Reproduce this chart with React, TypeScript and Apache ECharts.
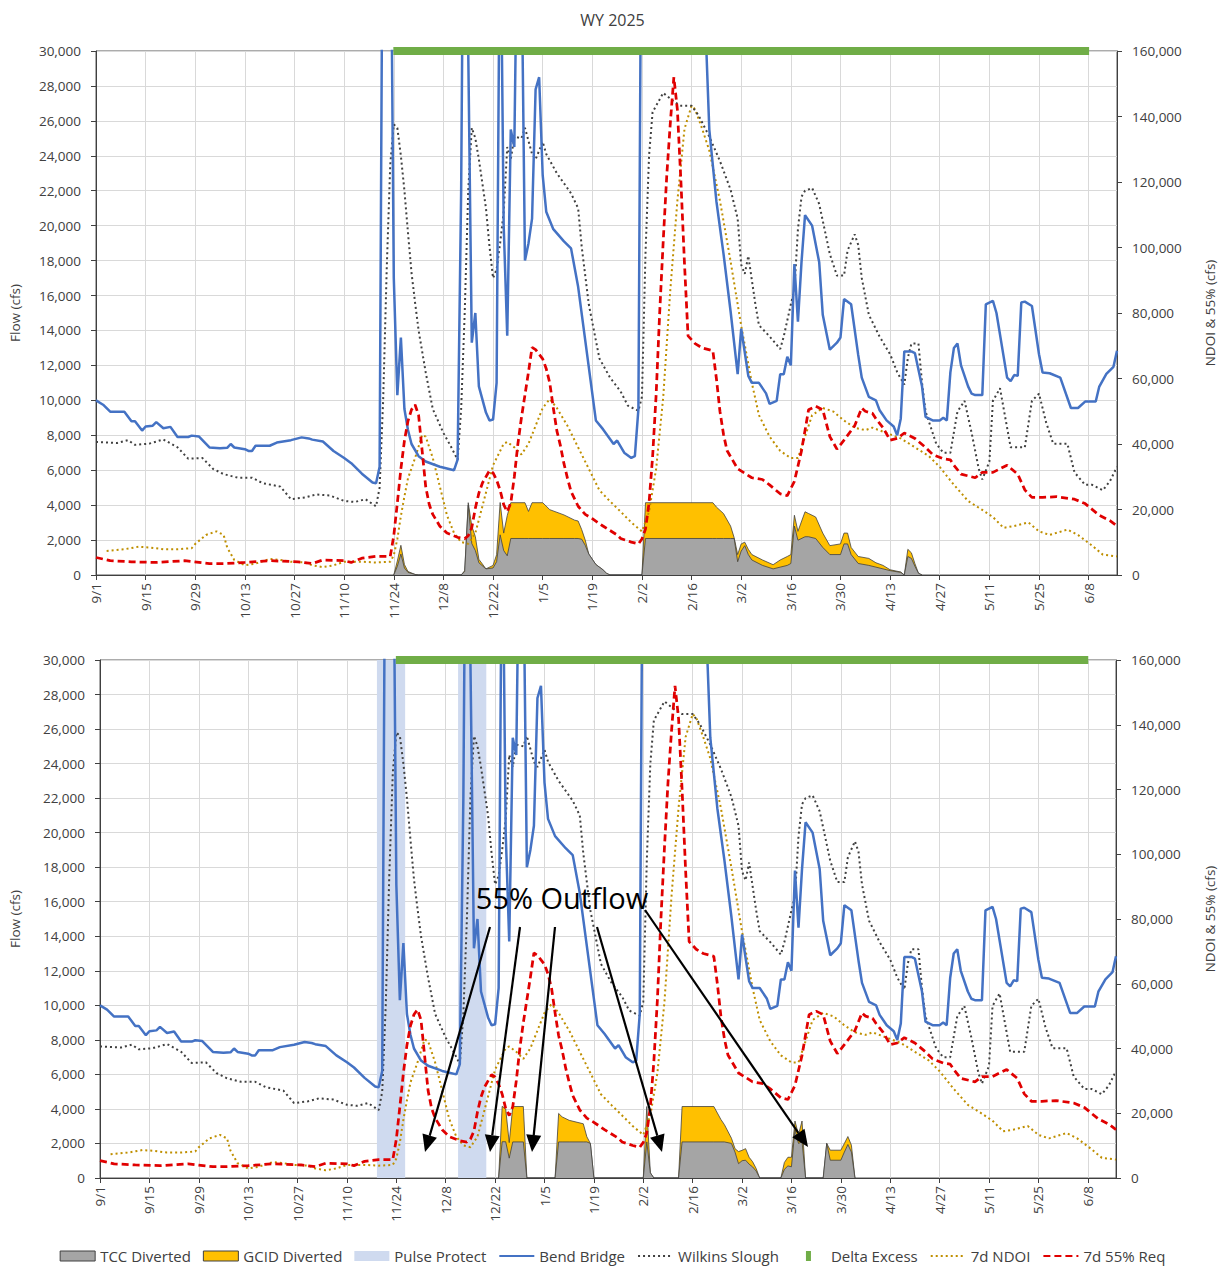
import React, { useEffect, useRef } from "react";
import * as echarts from "echarts";

// x values are days counted from 9/1/2024 (day 0)
const dayRange = { min: 0, max: 288, step: 14 };
const flowAxis = { max: 30000, step: 2000 };
const outflowAxis = { max: 160000, step: 20000 };

const bendBridge: [number, number][] = [
  [0, 10000], [2, 9750], [4, 9350], [8, 9350], [10, 8800], [11, 8800], [13, 8270], [14, 8500], [16, 8550], [17, 8750],
  [19, 8400], [21, 8480], [23, 7900], [26, 7900], [27, 7980], [29, 7930], [32, 7300], [35, 7250], [37, 7280], [38, 7500],
  [39, 7300], [42, 7200], [43, 7100], [44, 7100], [45, 7400], [49, 7400], [51, 7580], [55, 7720], [58, 7880], [60, 7820],
  [61, 7750], [64, 7640], [67, 7100], [70, 6700], [72, 6400], [75, 5800], [78, 5300], [79, 5250], [80, 6200], [81, 45000],
  [82, 60000], [83, 42000], [84, 17000], [85, 10300], [86, 13600], [87, 9500], [88, 8300], [89, 7500], [91, 6800], [93, 6500],
  [97, 6200], [101, 6000], [102, 6600], [103, 22000], [104, 50000], [105, 30000], [106, 13300], [107, 15000], [108, 10800],
  [110, 9300], [111, 8850], [112, 8900], [113, 11000], [114, 40000], [115, 20000], [116, 13700], [117, 25500], [118, 24500],
  [119, 40000], [120, 36000], [121, 18000], [122, 19000], [123, 20400], [124, 27800], [125, 28500], [126, 22900], [127, 20800],
  [129, 19800], [132, 19100], [134, 18700], [136, 16500], [141, 8850], [143, 8350], [146, 7500], [147, 7700], [149, 7000],
  [151, 6700], [152, 6800], [153, 9500], [154, 45000], [160, 60000], [170, 45000], [172, 31000], [173, 25500], [175, 21400],
  [177, 18400], [179, 15100], [181, 11500], [182, 14100], [184, 11400], [185, 11000], [187, 11000], [189, 10400], [190, 9800],
  [192, 9970], [193, 11500], [194, 11500], [195, 12500], [196, 12000], [197, 17800], [198, 14500], [199, 17900], [200, 20600],
  [202, 20000], [204, 17900], [205, 14900], [207, 12900], [209, 13300], [210, 13600], [211, 15800], [213, 15500], [215, 12600],
  [216, 11300], [218, 10200], [220, 10000], [221, 9450], [223, 8850], [225, 8500], [226, 8000], [227, 8950], [228, 12800],
  [230, 12800], [231, 12700], [233, 10800], [234, 9050], [236, 8850], [238, 8850], [239, 9000], [240, 8850], [241, 11600],
  [242, 13000], [243, 13250], [244, 12000], [246, 10800], [247, 10380], [248, 10300], [250, 10300], [251, 15500], [253, 15700],
  [254, 15000], [257, 11300], [258, 11100], [259, 11450], [260, 11400], [261, 15600], [262, 15650], [264, 15400], [266, 12640],
  [267, 11600], [269, 11550], [272, 11300], [275, 9560], [277, 9560], [279, 9930], [282, 9930], [283, 10790], [285, 11510],
  [287, 11920], [288, 12840],
];

const wilkinsSlough: [number, number][] = [
  [0, 7620], [6, 7560], [9, 7720], [11, 7450], [15, 7520], [19, 7760], [23, 7310], [26, 6660], [30, 6700], [33, 6080],
  [36, 5775], [40, 5570], [44, 5570], [47, 5260], [52, 5060], [55, 4340], [59, 4440], [62, 4610], [66, 4550], [70, 4240],
  [73, 4180], [76, 4340], [79, 3930], [80, 5000], [81, 10000], [82, 17500], [83, 23500], [84, 25800], [85, 25600], [86, 24000],
  [87, 22000], [88, 19600], [89, 17300], [90, 15600], [91, 14000], [93, 11600], [95, 9500], [98, 8130], [100, 7400], [102, 6600],
  [103, 9500], [104, 15000], [105, 22000], [106, 25600], [107, 25000], [108, 23800], [110, 21000], [111, 18800], [112, 17000],
  [113, 17500], [114, 19000], [115, 20800], [116, 24500], [117, 23800], [118, 25100], [120, 25000], [121, 25600], [123, 24100],
  [124, 23800], [126, 24800], [127, 24100], [130, 23000], [134, 21850], [136, 21000], [137, 18800], [139, 15500], [142, 12400],
  [145, 11300], [148, 10500], [150, 9700], [153, 9400], [154, 10200], [155, 18400], [156, 24000], [157, 26500], [160, 27600],
  [163, 27100], [165, 26870], [168, 26870], [170, 26300], [173, 25100], [176, 23700], [179, 22060], [181, 20400], [182, 17760],
  [183, 17240], [184, 18270], [186, 15500], [187, 14300], [190, 13660], [193, 12940], [194, 13660], [196, 15500], [197, 16320],
  [198, 19800], [199, 21650], [200, 22000], [202, 22160], [204, 21240], [207, 18370], [209, 17140], [211, 17140], [212, 18580],
  [214, 19500], [215, 18900], [216, 17000], [218, 14900], [221, 13660], [224, 12640], [226, 11610], [228, 10900], [229, 12430],
  [230, 13250], [232, 13250], [233, 11000], [234, 9360], [237, 7520], [239, 7000], [241, 7000], [243, 9360], [245, 9970],
  [247, 8130], [249, 6080], [250, 5470], [252, 6490], [253, 9970], [255, 10690], [256, 9560], [258, 7310], [262, 7310],
  [264, 9970], [266, 10380], [268, 8740], [270, 7520], [274, 7520], [276, 5880], [279, 5160], [281, 5160], [284, 4850],
  [286, 5370], [288, 6190],
];

const ndoi7d: [number, number][] = [
  [3, 7320], [8, 7860], [12, 8630], [15, 8410], [19, 7860], [23, 7860], [27, 8190], [28, 9500], [31, 12230], [34, 13320],
  [36, 12230], [37, 8410], [39, 4590], [42, 2950], [45, 3490], [49, 4910], [52, 4590], [55, 4040], [59, 3820], [61, 2950],
  [64, 2400], [67, 2950], [70, 4040], [75, 4040], [79, 3820], [83, 4040], [84, 6000], [85, 11000], [86, 18000], [87, 24000],
  [88, 29500], [90, 35700], [92, 42800], [93, 42260], [95, 35710], [97, 26970], [99, 18240], [101, 12780], [103, 10050],
  [105, 9500], [107, 12780], [109, 21000], [112, 33520], [115, 40080], [116, 40620], [118, 38980], [120, 36800], [122, 40080],
  [124, 45540], [126, 51000], [128, 53730], [130, 51000], [133, 45540], [136, 38980], [139, 32430], [142, 25880], [145, 22500],
  [148, 19330], [151, 16050], [154, 13320], [156, 19330], [158, 32430], [160, 54270], [162, 87030], [164, 114300], [166, 136200],
  [168, 143300], [169, 142200], [171, 136200], [173, 129600], [176, 114300], [179, 95770], [182, 76110], [185, 58640],
  [187, 48810], [190, 42260], [193, 37890], [196, 35710], [198, 35710], [200, 42260], [202, 48810], [205, 51000], [208, 49900],
  [211, 47170], [214, 44990], [217, 44220], [219, 44990], [223, 43350], [227, 41710], [231, 38980], [235, 36250], [238, 32980],
  [242, 27520], [246, 22600], [250, 19870], [253, 17690], [256, 14410], [259, 14960], [263, 16050], [266, 13320], [269, 12230],
  [274, 13870], [277, 12230], [281, 8950], [284, 6220], [288, 5680],
];

const req55: [number, number][] = [
  [0, 5350], [4, 4370], [10, 4040], [17, 3820], [25, 4370], [32, 3490], [36, 3490], [42, 3820], [49, 4370], [57, 4040],
  [61, 3490], [64, 4590], [70, 4370], [72, 3820], [75, 5130], [79, 5680], [83, 5680], [84, 12000], [85, 22000], [86, 32400],
  [87, 41000], [88, 47000], [89, 50500], [90, 52000], [91, 48800], [92, 37900], [93, 27000], [94, 21500], [95, 18500],
  [97, 14900], [99, 12800], [102, 11500], [104, 11100], [105, 12000], [106, 14500], [107, 20400], [108, 25000], [109, 28100],
  [111, 31900], [112, 31200], [113, 29000], [114, 25900], [115, 21500], [116, 19300], [117, 22000], [118, 30000], [119, 40000],
  [120, 48000], [121, 55000], [122, 62000], [123, 69500], [124, 68800], [125, 67400], [126, 66000], [127, 63000], [128, 58600],
  [129, 51000], [130, 44000], [131, 39500], [132, 34000], [133, 29500], [134, 25500], [136, 21000], [138, 18500], [140, 17200],
  [143, 14960], [147, 12230], [148, 11140], [151, 10050], [153, 9500], [154, 11000], [155, 14000], [156, 22000], [157, 36000],
  [158, 55000], [159, 80000], [160, 102000], [161, 122000], [162, 138000], [163, 152000], [164, 142000], [165, 120000],
  [166, 95000], [167, 73000], [169, 70650], [171, 69340], [174, 68470], [175, 60000], [176, 50000], [177, 43000], [178, 38000],
  [181, 32430], [185, 29700], [188, 29160], [190, 27520], [193, 24790], [195, 24240], [197, 28610], [199, 37890], [201, 50450],
  [203, 51540], [205, 50450], [207, 42260], [209, 38440], [211, 41170], [214, 45540], [216, 51000], [217, 50000], [219, 49360],
  [220, 47720], [222, 44990], [224, 41170], [226, 41710], [228, 43350], [231, 41710], [234, 38980], [236, 36800], [239, 35490],
  [241, 35160], [242, 33520], [244, 30790], [248, 29700], [250, 31340], [253, 31340], [257, 33520], [260, 30790], [262, 26000],
  [264, 23700], [267, 23700], [271, 23910], [276, 23150], [279, 21800], [283, 18240], [286, 16600], [288, 14960],
];

// Upper panel diversions
const divTopDays = [
  84, 85, 86, 87, 88, 90, 91,
  103, 104, 105, 106, 107, 108, 110, 112, 113, 114, 115, 116, 117, 121, 122, 123, 126, 128, 132, 135, 136, 137, 138, 139, 141, 143, 144, 145,
  154, 155, 174, 175, 177, 179, 180, 181, 182, 183, 184, 185, 188, 191, 193, 195, 196, 197, 198, 200, 201, 203, 205, 207, 210, 211, 212, 213, 215, 218, 220, 222, 224, 227, 228, 229, 230, 231, 232, 233,
];
const tccTop = [
  0, 500, 1200, 400, 150, 30, 0,
  0, 200, 4000, 1800, 1400, 700, 350, 400, 760, 2300, 1400, 1100, 2090, 2090, 2090, 2090, 2090, 2090, 2090, 2090, 2090, 2050, 1700, 1200, 600, 300, 100, 0,
  0, 2090, 2090, 2090, 2090, 2090, 2090, 760, 1370, 1680, 1170, 860, 550, 350, 450, 550, 660, 2800, 1990, 2190, 2190, 2090, 1580, 1170, 1170, 1780, 1780, 1170, 660, 550, 450, 350, 250, 150, 0, 1060, 950, 500, 100, 0,
];
const gcidTop = [
  0, 300, 500, 200, 50, 0, 0,
  0, 50, 140, 1000, 800, 200, 0, 150, 400, 1850, 1000, 2300, 2050, 2050, 1550, 2050, 2050, 1650, 1350, 1050, 1000, 550, 300, 0, 0, 0, 0, 0,
  0, 2050, 2050, 1800, 1430, 710, 50, 410, 410, 200, 300, 310, 310, 240, 410, 510, 510, 620, 510, 1430, 1330, 1230, 820, 510, 610, 620, 620, 410, 400, 400, 250, 200, 50, 20, 0, 410, 320, 150, 0, 0,
];

// Lower panel diversions
const divBotDays = [
  113, 114, 115, 116, 117, 120, 121,
  129, 130, 131, 133, 137, 138, 139, 140,
  154, 155, 156, 157,
  164, 165, 174, 176, 177, 179, 180, 181, 182, 183, 184, 185, 186, 187,
  193, 194, 195, 196, 197, 198, 199, 200,
  205, 206, 207, 210, 211, 212, 213, 214,
];
const tccBot = [
  0, 2100, 2100, 1150, 2090, 2090, 0,
  0, 2090, 2090, 2090, 2090, 2090, 2000, 0,
  0, 2090, 300, 0,
  0, 2090, 2090, 2090, 2090, 2000, 1500, 830, 1000, 1030, 800, 640, 400, 0,
  0, 500, 700, 650, 2800, 2000, 2100, 0,
  0, 2000, 1030, 1030, 1500, 1940, 1500, 0,
];
const gcidBot = [
  0, 2050, 1900, 900, 2050, 2050, 0,
  0, 1650, 1450, 1250, 1050, 300, 0, 0,
  0, 2050, 0, 0,
  0, 2050, 2050, 1300, 1000, 300, 200, 700, 600, 670, 400, 300, 150, 0,
  0, 400, 500, 550, 500, 500, 1200, 0,
  0, 0, 580, 580, 500, 460, 400, 0,
];

const pulseProtectDays = [79, 80, 81, 82, 83, 84, 85, 86, 102, 103, 104, 105, 106, 107, 108, 109];
const deltaExcessDays = [85, 279];
const deltaExcessLevel = 30000;

const FONT = "'Open Sans', 'Liberation Sans', sans-serif";
const C = {
  bend: "#4472C4",
  wilkins: "#404040",
  ndoi: "#BF8F00",
  req: "#E00000",
  green: "#70AD47",
  tcc: "#A5A5A5",
  gcid: "#FFC000",
  pulse: "#CFDAEF",
  edge: "#404040",
  grid: "#D9D9D9",
  text: "#404040",
};

const dayLabel = (d: number) => {
  const dt = new Date(2024, 8, 1 + d);
  return `${dt.getMonth() + 1}/${dt.getDate()}`;
};
const fmt = (v: number) => v.toLocaleString("en-US");

function runsOf(days: number[]) {
  const runs: [number, number][] = [];
  days.forEach((d) => {
    const last = runs[runs.length - 1];
    if (last && d === last[1] + 1) last[1] = d;
    else runs.push([d, d]);
  });
  return runs;
}

function panelSeries(p: number, days: number[], tcc: number[], gcid: number[], pulse: number[] | null) {
  const xi = p;
  const yl = p * 2;
  const yr = p * 2 + 1;
  const list: any[] = [];
  if (pulse) {
    runsOf(pulse).forEach(([s, e]) => {
      list.push({
        name: "Pulse Protect", type: "line", xAxisIndex: xi, yAxisIndex: yl, symbol: "none", silent: true, z: 1,
        data: [[s - 0.5, flowAxis.max], [e + 0.5, flowAxis.max]],
        lineStyle: { width: 0 }, itemStyle: { color: C.pulse }, areaStyle: { color: C.pulse, opacity: 1 },
      });
    });
  }
  list.push({
    name: "GCID Diverted", type: "line", xAxisIndex: xi, yAxisIndex: yl, symbol: "none", z: 2,
    data: days.map((d, i) => [d, tcc[i] + gcid[i]]),
    lineStyle: { color: C.edge, width: 0.8 }, itemStyle: { color: C.gcid }, areaStyle: { color: C.gcid, opacity: 1 },
  });
  list.push({
    name: "TCC Diverted", type: "line", xAxisIndex: xi, yAxisIndex: yl, symbol: "none", z: 3,
    data: days.map((d, i) => [d, tcc[i]]),
    lineStyle: { color: C.edge, width: 0.8 }, itemStyle: { color: C.tcc }, areaStyle: { color: C.tcc, opacity: 1 },
  });
  list.push({
    name: "7d NDOI", type: "line", xAxisIndex: xi, yAxisIndex: yr, symbol: "none", z: 4, data: ndoi7d,
    lineStyle: { color: C.ndoi, width: 2, type: [2, 3] }, itemStyle: { color: C.ndoi },
  });
  list.push({
    name: "Wilkins Slough", type: "line", xAxisIndex: xi, yAxisIndex: yl, symbol: "none", z: 5, data: wilkinsSlough,
    lineStyle: { color: C.wilkins, width: 2, type: [2, 3] }, itemStyle: { color: C.wilkins },
  });
  list.push({
    name: "Bend Bridge", type: "line", xAxisIndex: xi, yAxisIndex: yl, symbol: "none", z: 6, data: bendBridge,
    lineStyle: { color: C.bend, width: 2.5 }, itemStyle: { color: C.bend },
  });
  list.push({
    name: "7d 55% Req", type: "line", xAxisIndex: xi, yAxisIndex: yr, symbol: "none", z: 7, data: req55,
    lineStyle: { color: C.req, width: 2.75, type: [7, 4] }, itemStyle: { color: C.req },
  });
  list.push({
    name: "Delta Excess", type: "line", xAxisIndex: xi, yAxisIndex: yl, symbol: "none", z: 8, clip: false,
    data: deltaExcessDays.map((d) => [d, deltaExcessLevel]),
    lineStyle: { color: C.green, width: 8, cap: "square" }, itemStyle: { color: C.green },
  });
  return list;
}

function xAxisFor(p: number) {
  return {
    type: "value", gridIndex: p, min: dayRange.min, max: dayRange.max, interval: dayRange.step,
    axisLine: { show: true, onZero: false, lineStyle: { color: C.text, width: 1 } },
    axisTick: { show: true, length: 5, lineStyle: { color: C.text } },
    axisLabel: {
      rotate: 90, margin: 8, fontSize: 13.5, color: C.text, fontFamily: FONT, showMaxLabel: false,
      formatter: (v: number) => (v % dayRange.step === 0 ? dayLabel(v) : ""),
    },
    splitLine: { show: true, lineStyle: { color: C.grid, width: 1 } },
  };
}

function yAxesFor(p: number, gapL: number, gapR: number) {
  const nameStyle = { fontSize: 13.5, color: C.text, fontFamily: FONT };
  return [
    {
      type: "value", gridIndex: p, position: "left", min: 0, max: flowAxis.max, interval: flowAxis.step,
      name: "Flow (cfs)", nameLocation: "middle", nameGap: gapL, nameTextStyle: nameStyle,
      axisLine: { show: true, lineStyle: { color: C.text } },
      axisTick: { show: true, length: 5, lineStyle: { color: C.text } },
      axisLabel: { margin: 15, fontSize: 13.5, color: C.text, fontFamily: FONT, formatter: fmt },
      splitLine: { show: true, lineStyle: { color: C.grid, width: 1 } },
    },
    {
      type: "value", gridIndex: p, position: "right", min: 0, max: outflowAxis.max, interval: outflowAxis.step,
      name: "NDOI & 55% (cfs)", nameLocation: "middle", nameGap: gapR, nameTextStyle: nameStyle,
      axisLine: { show: true, lineStyle: { color: C.text } },
      axisTick: { show: true, length: 5, lineStyle: { color: C.text } },
      axisLabel: { margin: 15, fontSize: 13.5, color: C.text, fontFamily: FONT, formatter: fmt },
      splitLine: { show: false },
    },
  ];
}

function arrow(x1: number, y1: number, x2: number, y2: number) {
  const dx = x2 - x1;
  const dy = y2 - y1;
  const len = Math.sqrt(dx * dx + dy * dy);
  const ux = dx / len;
  const uy = dy / len;
  const hl = 17;
  const hw = 7.5;
  const bx = x2 - ux * hl;
  const by = y2 - uy * hl;
  return [
    { type: "line", z: 100, shape: { x1, y1, x2: bx, y2: by }, style: { stroke: "#000", lineWidth: 2.2 } },
    {
      type: "polygon", z: 100,
      shape: { points: [[x2, y2], [bx - uy * hw, by + ux * hw], [bx + uy * hw, by - ux * hw]] },
      style: { fill: "#000" },
    },
  ];
}

const annotationArrows: [number, number, number, number][] = [
  [490, 927, 425, 1152],
  [520, 927, 490, 1152],
  [555, 927, 532, 1152],
  [597, 927, 662, 1152],
  [645, 910, 808, 1147],
];

export default function App() {
  const ref = useRef<HTMLDivElement>(null);
  useEffect(() => {
    if (!ref.current) return;
    const chart = echarts.init(ref.current, undefined, { renderer: "svg" });
    const graphics: any[] = [
      {
        type: "text", z: 100, x: 562, y: 897,
        style: { text: "55% Outflow", fontSize: 29, fontFamily: FONT, fill: "#000", align: "center", verticalAlign: "middle" },
      },
    ];
    annotationArrows.forEach((a) => graphics.push(...arrow(a[0], a[1], a[2], a[3])));
    const hideSym = { opacity: 0 };
    const option: any = {
      animation: false,
      backgroundColor: "#fff",
      textStyle: { fontFamily: FONT },
      title: {
        text: "WY 2025", left: "center", top: 7,
        textStyle: { fontSize: 16, fontWeight: "normal", color: C.text, fontFamily: FONT },
      },
      grid: [
        { left: 96, top: 51, width: 1022, height: 524, show: true, borderColor: "#595959", borderWidth: 1, backgroundColor: "transparent" },
        { left: 100, top: 660, width: 1017, height: 518, show: true, borderColor: "#595959", borderWidth: 1, backgroundColor: "transparent" },
      ],
      xAxis: [xAxisFor(0), xAxisFor(1)],
      yAxis: [...yAxesFor(0, 74, 86), ...yAxesFor(1, 78, 87)],
      legend: {
        left: "center", top: 1247, padding: [0, 5], itemWidth: 35, itemHeight: 10, itemGap: 12,
        textStyle: { fontSize: 15, color: C.text, fontFamily: FONT, lineHeight: 18 },
        data: [
          { name: "TCC Diverted", icon: "rect", itemStyle: { color: C.tcc, borderColor: C.edge, borderWidth: 1 } },
          { name: "GCID Diverted", icon: "rect", itemStyle: { color: C.gcid, borderColor: C.edge, borderWidth: 1 } },
          { name: "Pulse Protect", icon: "rect", itemStyle: { color: C.pulse } },
          { name: "Bend Bridge", itemStyle: hideSym },
          { name: "Wilkins Slough", itemStyle: hideSym },
          { name: "Delta Excess", icon: "path://M0,0L0,0M15,0L20,0L20,10L15,10ZM35,10L35,10", itemStyle: { color: C.green } },
          { name: "7d NDOI", itemStyle: hideSym },
          { name: "7d 55% Req", itemStyle: hideSym },
        ],
      },
      graphic: graphics,
      series: [
        ...panelSeries(0, divTopDays, tccTop, gcidTop, null),
        ...panelSeries(1, divBotDays, tccBot, gcidBot, pulseProtectDays),
      ],
    };
    chart.setOption(option);
    return () => chart.dispose();
  }, []);
  return (
    <div
      ref={ref}
      style={{ position: "fixed", left: 0, top: 0, width: 1225, height: 1268, background: "#fff" }}
    />
  );
}
